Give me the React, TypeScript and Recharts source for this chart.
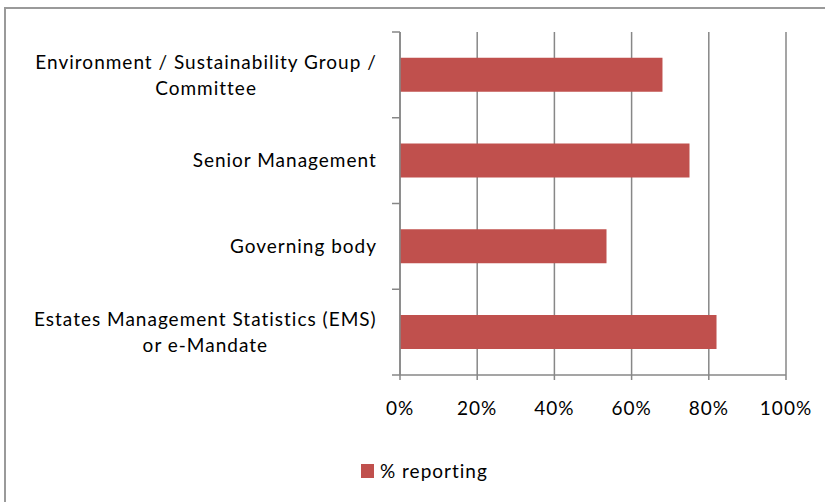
import { Bar, BarChart, CartesianGrid, Legend, XAxis, YAxis } from "recharts";

const categories = [
  "Environment / Sustainability Group /\nCommittee",
  "Senior Management",
  "Governing body",
  "Estates Management Statistics (EMS)\nor e-Mandate"
];
const reporting = [0.68, 0.75, 0.535, 0.82];
const xTicks = [0, 0.2, 0.4, 0.6, 0.8, 1];

const data = categories.map((label, i) => ({ label, reporting: reporting[i] }));

const FONT = "Lato, 'Open Sans', sans-serif";
const GRID = "#878787";
const BAR = "#C0504D";
const PLOT_TOP = 32;
const PLOT_BOTTOM = 375;
const SPACING = 1;
const band = (PLOT_BOTTOM - PLOT_TOP) / categories.length;

let ctx: CanvasRenderingContext2D | null = null;
function measure(text: string) {
  if (!ctx) ctx = document.createElement("canvas").getContext("2d");
  if (!ctx) return text.length * 10.5;
  ctx.font = `19px ${FONT}`;
  return ctx.measureText(text).width + text.length * SPACING;
}

function CategoryTick(props: any) {
  const { x, y, payload, index } = props;
  const lines = String(payload.value).split("\n");
  const w = Math.max(...lines.map(measure));
  const cx = x - w / 2;
  const lh = 26;
  const startY = y - ((lines.length - 1) * lh) / 2;
  const axisX = x + 23;
  return (
    <g>
      <line x1={axisX - 8} x2={axisX} y1={y - band / 2} y2={y - band / 2} stroke={GRID} strokeWidth={1.5} />
      {index === categories.length - 1 && (
        <line x1={axisX - 8} x2={axisX} y1={y + band / 2} y2={y + band / 2} stroke={GRID} strokeWidth={1.5} />
      )}
      <text textAnchor="middle" fontFamily={FONT} fontSize={19} fill="#000" letterSpacing={SPACING}>
        {lines.map((ln, i) => (
          <tspan key={i} x={cx} y={startY + i * lh} dy="0.35em">
            {ln}
          </tspan>
        ))}
      </text>
    </g>
  );
}

function LegendBox() {
  return (
    <div
      style={{
        display: "flex",
        alignItems: "center",
        fontFamily: FONT,
        fontSize: 19,
        letterSpacing: SPACING,
        color: "#000"
      }}
    >
      <span style={{ width: 13, height: 14, background: BAR, display: "inline-block", marginRight: 6 }} />
      <span>% reporting</span>
    </div>
  );
}

export default function App() {
  return (
    <div style={{ position: "absolute", left: 0, top: 0, width: 825, height: 502, background: "#fff", overflow: "hidden" }}>
      <div
        style={{
          position: "absolute",
          left: 4,
          top: 7,
          width: 830,
          height: 510,
          border: "2px solid #9a9a9a",
          boxSizing: "border-box"
        }}
      />
      <BarChart
        width={825}
        height={502}
        data={data}
        layout="vertical"
        barCategoryGap="30%"
        margin={{ top: PLOT_TOP, right: 39, bottom: 0, left: 0 }}
      >
        <CartesianGrid horizontal={false} stroke={GRID} strokeWidth={1.5} />
        <XAxis
          type="number"
          domain={[0, 1]}
          ticks={xTicks}
          tickFormatter={(v: number) => `${Math.round(v * 100)}%`}
          axisLine={{ stroke: GRID, strokeWidth: 1.5 }}
          tickLine={{ stroke: GRID, strokeWidth: 1.5 }}
          tickSize={5}
          tickMargin={22}
          height={127}
          tick={{ fontFamily: FONT, fontSize: 19, fill: "#000", letterSpacing: SPACING }}
          interval={0}
        />
        <YAxis
          type="category"
          dataKey="label"
          width={400}
          axisLine={{ stroke: GRID, strokeWidth: 1.5 }}
          tickLine={false}
          tickSize={8}
          tickMargin={15}
          tick={<CategoryTick />}
          interval={0}
        />
        <Legend
          layout="horizontal"
          verticalAlign="middle"
          align="center"
          content={<LegendBox />}
          wrapperStyle={{ left: 361, top: 459, width: 200, height: 26 }}
        />
        <Bar dataKey="reporting" fill={BAR} isAnimationActive={false} />
      </BarChart>
    </div>
  );
}
